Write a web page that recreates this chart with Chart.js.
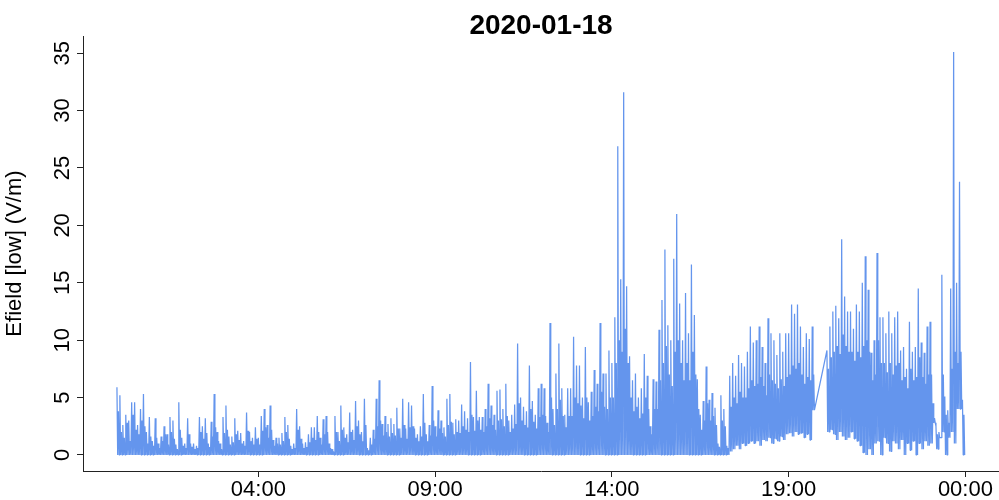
<!DOCTYPE html>
<html>
<head>
<meta charset="utf-8">
<script src="https://cdn.jsdelivr.net/npm/chart.js@4/dist/chart.umd.min.js"></script>
<style>
  html, body { margin: 0; padding: 0; background: #ffffff; }
  #wrap { width: 999px; height: 500px; position: relative; }
</style>
</head>
<body>
<div id="wrap"><canvas id="c" width="999" height="500"></canvas></div>
<script>
// ---- data (5-minute bins, one row per hour of 2020-01-18) ----
const chartTitle = '2020-01-18';
const yAxisTitle = 'Efield [low] (V/m)';
const binMinutes = 5;

// highest value in the first half of each 5-minute bin (V/m); null = no data
const binPeak = [
  5.9, 5.2, 2.6, 3.5, 3.0, 4.6, 4.6, 2.6, 4.0, 5.3, 2.0, 3.3,        // 00h
  1.2, 3.2, 1.0, 1.6, 2.5, 1.8, 3.3, 3.0, 0.9, 4.6, 1.5, 1.0,        // 01h
  3.2, 1.0, 1.0, 0.8, 3.3, 2.5, 3.2, 1.0, 2.9, 5.3, 2.0, 1.0,        // 02h
  3.3, 4.3, 1.6, 1.6, 3.2, 2.1, 1.9, 1.2, 3.7, 2.0, 1.5, 2.4,        // 03h
  1.5, 3.4, 4.0, 2.6, 4.3, 1.3, 1.5, 1.5, 1.9, 3.3, 2.6, 0.8,        // 04h
  1.0, 4.0, 2.5, 1.0, 1.1, 1.8, 2.4, 2.4, 3.4, 1.5, 3.1, 3.4,        // 05h
  1.0, 0.5, 3.4, 2.0, 4.3, 2.4, 1.8, 3.7, 2.2, 4.7, 3.0, 2.0,        // 06h
  4.9, 0.6, 1.5, 2.2, 4.9, 6.5, 2.7, 3.4, 2.7, 3.2, 2.7, 4.1,        // 07h
  2.3, 4.9, 2.3, 4.6, 4.3, 2.3, 1.8, 2.5, 5.3, 1.8, 2.6, 6.0,        // 08h
  2.5, 3.9, 3.0, 2.4, 4.9, 5.3, 2.8, 3.1, 3.0, 4.4, 3.8, 3.2,        // 09h
  8.1, 3.3, 5.6, 3.3, 3.3, 4.0, 6.2, 4.3, 3.5, 5.6, 5.7, 4.0,        // 10h
  6.2, 3.0, 3.5, 4.4, 9.7, 5.0, 4.2, 3.8, 7.8, 4.7, 3.5, 5.8,        // 11h
  6.2, 5.8, 2.8, 11.5, 4.0, 7.1, 9.7, 5.8, 3.5, 5.8, 5.8, 10.3,      // 12h
  7.8, 7.8, 5.0, 9.4, 4.6, 5.5, 7.4, 6.2, 11.5, 7.1, 7.1, 9.1,       // 13h
  8.0, 12.0, 26.9, 15.3, 31.6, 14.7, 8.6, 6.5, 7.1, 5.0, 5.8, 8.8,   // 14h
  6.9, 2.5, 6.6, 6.4, 10.9, 13.5, 17.9, 11.3, 10.0, 17.1, 21.0, 13.2,// 15h
  10.0, 14.1, 10.6, 16.6, 12.2, 6.6, 3.5, 4.7, 7.7, 4.8, 5.4, 4.1,   // 16h
  1.0, 5.2, 4.0, 0.8, 6.9, 8.0, 6.9, 8.7, 8.0, 7.7, 9.0, 11.2,       // 17h
  9.8, 10.0, 11.2, 9.4, 8.0, 11.9, 10.6, 10.0, 8.7, 10.6, 9.0, 10.6, // 18h
  10.6, 13.1, 12.3, 13.1, 11.2, 9.4, 10.6, 10.1, 11.2, null, null, null, // 19h
  null, 9.1, 11.2, 12.5, 13.0, 11.9, 18.8, 13.8, 12.5, 12.5, 11.0, 13.1, // 20h
  12.5, 15.0, 17.3, 14.4, 8.9, 10.0, 17.6, 12.0, 12.0, 10.6, 12.5, 10.6, // 21h
  12.0, 12.5, 9.1, 9.4, 7.5, 11.6, 9.0, 9.4, 14.5, 9.8, 8.9, 11.2,   // 22h
  11.6, 4.5, 2.5, 2.0, 15.7, 5.1, 3.9, 14.5, 35.1, 15.0, 23.8, 4.8   // 23h
];

// highest value in the second half of each 5-minute bin (V/m); null = no data
const binMid = [
  3.8, 2.0, 1.5, 2.8, 1.2, 3.5, 2.2, 1.8, 3.0, 2.5, 1.0, 1.6,        // 00h
  0.8, 1.5, 0.6, 1.2, 1.8, 0.9, 2.0, 1.4, 0.5, 2.2, 0.8, 0.6,        // 01h
  1.8, 0.7, 0.5, 0.6, 2.0, 1.4, 1.9, 0.7, 1.6, 2.4, 1.2, 0.5,        // 02h
  1.9, 2.2, 0.9, 1.1, 1.8, 1.3, 1.0, 0.8, 2.1, 1.2, 0.9, 1.4,        // 03h
  0.9, 2.1, 2.4, 1.5, 2.2, 0.8, 1.0, 0.9, 1.2, 2.0, 1.4, 0.5,        // 04h
  0.6, 2.2, 1.4, 0.6, 0.7, 1.1, 1.5, 1.3, 2.0, 0.9, 1.8, 2.0,        // 05h
  0.6, 0.3, 2.0, 1.2, 2.2, 1.5, 1.1, 2.0, 1.3, 2.5, 1.8, 1.2,        // 06h
  2.6, 0.4, 0.9, 1.4, 2.5, 3.0, 1.7, 2.0, 1.6, 1.9, 1.7, 2.3,        // 07h
  1.5, 2.6, 1.4, 2.4, 2.5, 1.5, 1.2, 1.6, 2.8, 1.2, 1.7, 3.0,        // 08h
  1.6, 2.3, 1.9, 1.6, 2.6, 2.9, 1.8, 2.0, 1.9, 2.5, 2.2, 2.0,        // 09h
  3.5, 2.1, 3.0, 2.2, 2.0, 2.5, 3.2, 2.6, 2.2, 3.0, 3.1, 2.5,        // 10h
  3.4, 2.0, 2.3, 2.7, 4.5, 3.0, 2.6, 2.4, 4.0, 2.9, 2.3, 3.3,        // 11h
  3.5, 3.4, 2.0, 5.0, 2.6, 4.0, 4.8, 3.4, 2.4, 3.4, 3.4, 5.0,        // 12h
  4.5, 4.3, 3.2, 5.0, 3.0, 3.4, 4.2, 3.8, 5.5, 4.2, 4.0, 5.0,        // 13h
  5.0, 8.0, 10.0, 9.0, 11.0, 8.0, 5.0, 3.8, 4.2, 3.2, 3.6, 5.0,      // 14h
  4.0, 1.8, 4.0, 4.0, 6.5, 8.0, 9.5, 7.0, 6.0, 9.0, 10.0, 8.0,       // 15h
  6.5, 8.0, 6.5, 9.0, 7.0, 4.0, 2.2, 3.0, 4.5, 3.0, 3.4, 2.6,        // 16h
  0.7, 3.0, 2.5, 0.6, 4.2, 5.0, 4.5, 5.5, 5.0, 5.0, 5.8, 6.5,        // 17h
  6.0, 6.2, 6.8, 6.0, 5.2, 7.0, 6.5, 6.2, 5.8, 6.6, 6.0, 6.8,        // 18h
  7.0, 7.8, 7.5, 8.0, 7.0, 6.2, 6.8, 6.5, 7.0, null, null, null,     // 19h
  null, 7.5, 8.5, 9.0, 9.5, 8.8, 10.5, 9.5, 9.0, 9.0, 8.2, 9.0,      // 20h
  8.5, 9.5, 10.0, 9.0, 6.5, 7.0, 10.0, 8.0, 8.0, 7.2, 8.0, 7.0,      // 21h
  7.8, 8.0, 6.5, 6.8, 5.8, 7.5, 6.5, 6.8, 8.5, 6.8, 6.2, 7.0,        // 22h
  7.0, 3.2, 1.8, 1.5, 7.0, 3.5, 2.8, 7.5, 9.0, 8.0, 9.0, 3.5         // 23h
];

// lowest value reached in each 5-minute bin (V/m); null = no data
const binLow = [
  0, 0, 0, 0, 0, 0, 0, 0, 0, 0, 0, 0,                                // 00h
  0, 0, 0, 0, 0, 0, 0, 0, 0, 0, 0, 0,                                // 01h
  0, 0, 0, 0, 0, 0, 0, 0, 0, 0, 0, 0,                                // 02h
  0, 0, 0, 0, 0, 0, 0, 0, 0, 0, 0, 0,                                // 03h
  0, 0, 0, 0, 0, 0, 0, 0, 0, 0, 0, 0,                                // 04h
  0, 0, 0, 0, 0, 0, 0, 0, 0, 0, 0, 0,                                // 05h
  0, 0, 0, 0, 0, 0, 0, 0, 0, 0, 0, 0,                                // 06h
  0, 0, 0, 0, 0, 0, 0, 0, 0, 0, 0, 0,                                // 07h
  0, 0, 0, 0, 0, 0, 0, 0, 0, 0, 0, 0,                                // 08h
  0, 0, 0, 0, 0, 0, 0, 0, 0, 0, 0, 0,                                // 09h
  0, 0, 0, 0, 0, 0, 0, 0, 0, 0, 0, 0,                                // 10h
  0, 0, 0, 0, 0, 0, 0, 0, 0, 0, 0, 0,                                // 11h
  0, 0, 0, 0, 0, 0, 0, 0, 0, 0, 0, 0,                                // 12h
  0, 0, 0, 0, 0, 0, 0, 0, 0, 0, 0, 0,                                // 13h
  0, 0, 0, 0, 0, 0, 0, 0, 0, 0, 0, 0,                                // 14h
  0, 0, 0, 0, 0, 0, 0, 0, 0, 0, 0, 0,                                // 15h
  0, 0, 0, 0, 0, 0, 0, 0, 0, 0, 0, 0,                                // 16h
  0, 0, 0, 0, 0.3, 0.5, 0.8, 0.5, 1.0, 0.8, 1.0, 1.2,                // 17h
  1.0, 1.2, 0.8, 1.3, 1.2, 1.5, 1.0, 1.4, 1.2, 1.6, 1.3, 1.8,        // 18h
  1.9, 1.6, 2.0, 1.8, 1.9, 1.5, 1.8, 1.3, 3.9, null, null, null,     // 19h
  null, 2.0, 2.2, 1.8, 1.3, 2.0, 1.6, 1.3, 1.5, 2.0, 1.4, 1.2,       // 20h
  0.8, 0.2, 0, 0.5, 0, 1.0, 1.2, 0, 1.5, 1.0, 0.3, 1.2,              // 21h
  1.0, 0.5, 1.3, 0, 1.0, 0.4, 1.2, 0, 1.0, 0.5, 1.2, 0.8,            // 22h
  1.0, 2.8, 0.5, 1.5, 2.0, 0, 1.5, 2.0, 1.0, 4.0, 4.0, 0             // 23h
];

const xTickHours  = [4, 9, 14, 19, 24];
const xTickLabels = ['04:00', '09:00', '14:00', '19:00', '00:00'];
const yTickValues = [0, 5, 10, 15, 20, 25, 30, 35];

// ---- build the line (time in hours): peak, low, mid, low within each bin ----
const points = [];
const step = binMinutes / 60 / 4;
for (let i = 0; i < binPeak.length; i++) {
  if (binPeak[i] === null || binLow[i] === null) continue;
  const t = i * binMinutes / 60;
  points.push({ x: t, y: binPeak[i] });
  points.push({ x: t + step, y: binLow[i] });
  points.push({ x: t + 2 * step, y: binMid[i] });
  points.push({ x: t + 3 * step, y: binLow[i] });
}

const FONT = '"Liberation Sans", Arial, Helvetica, sans-serif';
const AXIS_COL = '#222222';

const titlePlugin = {
  id: 'plotTitle',
  afterDraw(chart) {
    const { ctx, chartArea } = chart;
    ctx.save();
    ctx.font = 'bold 28px ' + FONT;
    ctx.fillStyle = '#000000';
    ctx.textAlign = 'center';
    ctx.textBaseline = 'middle';
    ctx.fillText(chartTitle, (chartArea.left + chartArea.right) / 2, 26);
    ctx.restore();
  }
};

new Chart(document.getElementById('c'), {
  type: 'line',
  data: {
    datasets: [{
      data: points,
      borderColor: '#6495ED',
      borderWidth: 1.25,
      borderJoinStyle: 'bevel',
      pointRadius: 0,
      tension: 0,
      fill: false
    }]
  },
  options: {
    responsive: false,
    animation: false,
    events: [],
    layout: { padding: { top: 36, right: 0, left: 0, bottom: 0 } },
    plugins: { legend: { display: false }, tooltip: { enabled: false }, title: { display: false } },
    scales: {
      x: {
        type: 'linear',
        min: -0.96,
        max: 24.95,
        afterBuildTicks(scale) { scale.ticks = xTickHours.map(v => ({ value: v })); },
        afterFit(scale) { scale.height = 29; },
        ticks: {
          autoSkip: false,
          maxRotation: 0,
          minRotation: 0,
          padding: 0,
          color: '#000000',
          font: { family: FONT, size: 22 },
          callback(value) { const k = xTickHours.indexOf(value); return k >= 0 ? xTickLabels[k] : ''; }
        },
        grid: { drawOnChartArea: false, drawTicks: true, tickLength: 6, color: AXIS_COL, lineWidth: 1 },
        border: { display: true, color: AXIS_COL, width: 1 }
      },
      y: {
        type: 'linear',
        min: -1.4,
        max: 36.5,
        afterBuildTicks(scale) { scale.ticks = yTickValues.map(v => ({ value: v })); },
        afterFit(scale) { scale.width = 83; },
        ticks: {
          autoSkip: false,
          minRotation: 90,
          maxRotation: 90,
          crossAlign: 'center',
          padding: 2,
          color: '#000000',
          font: { family: FONT, size: 22 },
          callback(value) { return String(value); }
        },
        title: {
          display: true,
          text: yAxisTitle,
          color: '#000000',
          font: { family: FONT, size: 22 },
          padding: { top: 2, bottom: 0 }
        },
        grid: { drawOnChartArea: false, drawTicks: true, tickLength: 6, color: AXIS_COL, lineWidth: 1 },
        border: { display: true, color: AXIS_COL, width: 1 }
      }
    }
  },
  plugins: [titlePlugin]
});
</script>
</body>
</html>
